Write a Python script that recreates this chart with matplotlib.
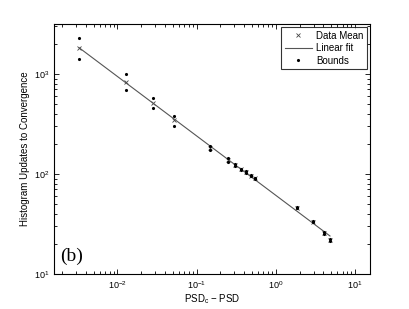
import numpy as np
import matplotlib
matplotlib.use("Agg")
import matplotlib.pyplot as plt

plt.rcParams['font.family'] = ['Liberation Sans', 'DejaVu Sans']
plt.rcParams['mathtext.fontset'] = 'custom'
plt.rcParams['mathtext.rm'] = 'Liberation Sans'

x_vals = [0.0033, 0.013, 0.0279, 0.0524, 0.149, 0.249, 0.302, 0.363, 0.424, 0.49, 0.544, 1.88, 2.99, 4.03, 4.84]
mean_vals = [1808, 826, 517, 347, 181, 138, 123, 111, 104, 96, 90.6, 46, 33.4, 25.9, 21.9]
upper_vals = [2307, 1000, 575, 383, 189, 143, 126, 113, 106, 97.5, 92, 46.8, 34.0, 26.4, 22.3]
lower_vals = [1413, 692, 461, 304, 172, 133, 120, 109, 102, 94.5, 89, 45.2, 32.8, 25.4, 21.5]

fig = plt.figure(figsize=(4.09, 3.09), dpi=100)
ax = fig.add_axes([54/409, 1 - 274/309, (370 - 54)/409, (274 - 24)/309])

lx = np.log10(x_vals)
ly = np.log10(mean_vals)
slope, icpt = np.polyfit(lx, ly, 1)
fx = np.array([x_vals[0], x_vals[-1]])
fy = 10 ** (icpt + slope * np.log10(fx))

ax.plot(x_vals, mean_vals, linestyle='none', marker='x', color='#444444', markersize=3.5, markeredgewidth=0.6, label='Data Mean')
ax.plot(fx, fy, color='#555555', linewidth=0.8, label='Linear fit')
ax.plot(x_vals + x_vals, upper_vals + lower_vals, linestyle='none', marker='.', color='black', markersize=2.5, label='Bounds')

ax.set_xscale('log')
ax.set_yscale('log')
ax.set_xlim(10 ** -2.8, 10 ** 1.19)
ax.set_ylim(10, 10 ** 3.5)

ax.tick_params(which='both', direction='in', top=True, right=True, labelsize=6.5, width=0.6)
ax.tick_params(which='major', length=3.5)
ax.tick_params(which='minor', length=2)
for s in ax.spines.values():
    s.set_linewidth(0.8)

ax.set_xlabel('PSD$_\\mathregular{c}$ \u2212 PSD', fontsize=7, labelpad=1)
ax.set_ylabel('Histogram Updates to Convergence', fontsize=7, labelpad=3)

ax.text(0.02, 0.035, '(b)', transform=ax.transAxes, fontsize=14, family='Liberation Serif', ha='left', va='bottom')

leg = ax.legend(loc='upper right', fontsize=7, frameon=True, fancybox=False, edgecolor='black',
                borderaxespad=0.35, handlelength=2.8, borderpad=0.35, labelspacing=0.25, handletextpad=0.4)
leg.get_frame().set_linewidth(0.8)

fig.savefig('out.png', dpi=100)
